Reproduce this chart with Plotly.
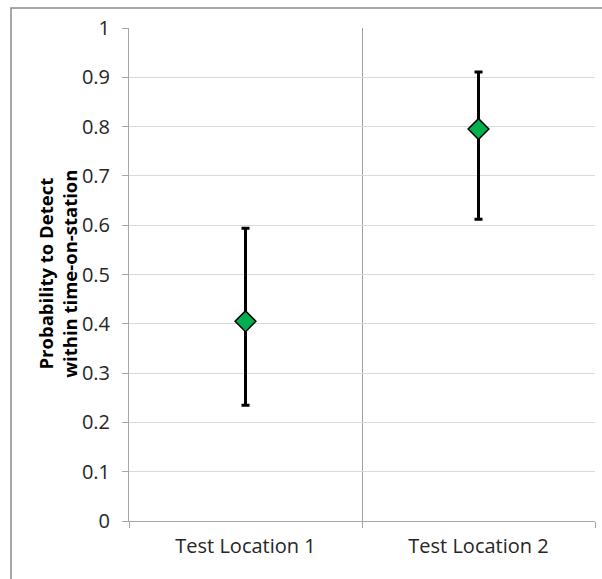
import plotly.graph_objects as go

# Detection probability per test location with confidence bounds
locations = ["Test Location 1", "Test Location 2"]
positions = [1, 2]
prob_detect = [0.405, 0.795]
upper_bound = [0.594, 0.911]
lower_bound = [0.235, 0.612]

err_plus = [u - p for u, p in zip(upper_bound, prob_detect)]
err_minus = [p - l for p, l in zip(prob_detect, lower_bound)]

FONT = "Open Sans"
AXIS_GRAY = "#a6a6a6"
TEXT = "#262626"

fig = go.Figure()

fig.add_trace(go.Scatter(
    x=positions, y=prob_detect,
    mode="markers",
    marker=dict(symbol="diamond", size=16, color="#00b050",
                line=dict(color="black", width=1.5)),
    error_y=dict(type="data", symmetric=False, array=err_plus,
                 arrayminus=err_minus, color="black", thickness=3, width=4),
    showlegend=False, hoverinfo="skip",
))

# Companion axis carrying the category labels
fig.add_trace(go.Scatter(
    x=positions, y=[None, None], xaxis="x2", mode="markers",
    showlegend=False, hoverinfo="skip",
))

fig.update_layout(
    width=602, height=579,
    margin=dict(l=129, r=7, t=28, b=58),
    paper_bgcolor="white", plot_bgcolor="white",
    font=dict(family=FONT, color=TEXT),
    xaxis=dict(
        range=[0.5, 2.5], tickvals=[0.5, 1.5, 2.5], showticklabels=False,
        ticks="outside", ticklen=6, tickcolor=AXIS_GRAY,
        showgrid=True, gridcolor="#a0a0a0", gridwidth=1,
        showline=True, linecolor=AXIS_GRAY, linewidth=1, zeroline=False,
    ),
    xaxis2=dict(
        range=[0.5, 2.5], overlaying="x", side="bottom", anchor="y",
        tickvals=positions, ticktext=locations, ticks="",
        showgrid=False, showline=False, zeroline=False,
        tickfont=dict(family=FONT, size=20, color=TEXT),
        ticklabelstandoff=11,
    ),
    yaxis=dict(
        range=[0, 1], dtick=0.1, tick0=0,
        ticks="outside", ticklen=6, tickcolor=AXIS_GRAY,
        showgrid=True, gridcolor="#d9d9d9", gridwidth=1,
        showline=True, linecolor=AXIS_GRAY, linewidth=1, zeroline=False,
        tickfont=dict(family=FONT, size=20, color=TEXT),
        ticklabelstandoff=8,
    ),
    annotations=[dict(
        text="<b>Probability to Detect<br>within time-on-station</b>",
        xref="paper", yref="paper", x=-0.155, y=0.501,
        xanchor="center", yanchor="middle", textangle=-90,
        showarrow=False, font=dict(family=FONT, size=18.5, color="black"),
    )],
    shapes=[dict(
        type="rect", xref="paper", yref="paper",
        x0=-0.2532, y0=-0.3, x1=1.2, y1=1.0406,
        line=dict(color="#8c8c8c", width=1.5), layer="below",
    )],
)

fig.write_html("out.html")
